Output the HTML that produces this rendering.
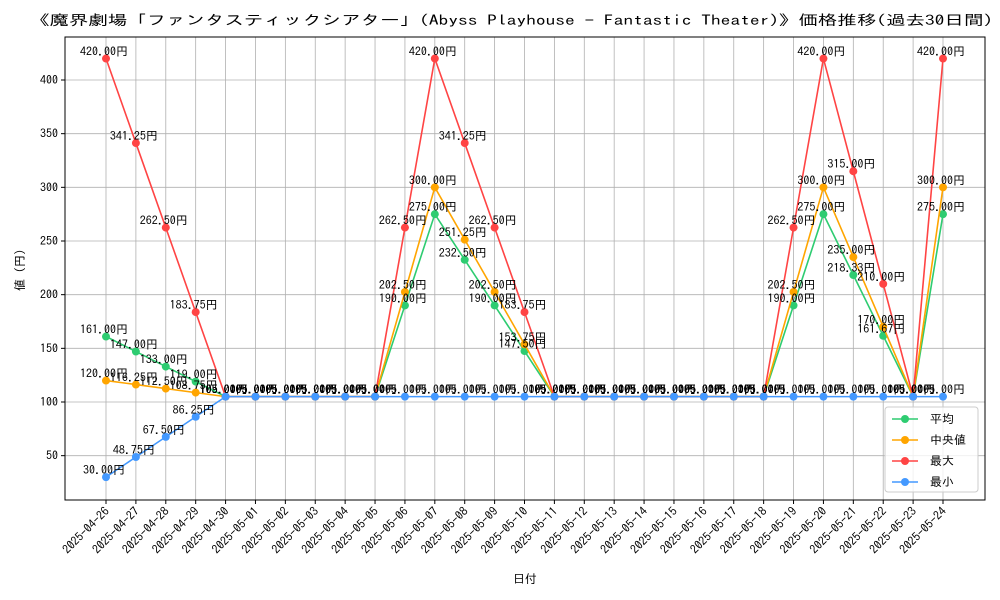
<!DOCTYPE html>
<html><head><meta charset="utf-8">
<style>
body{margin:0;background:#fff;}
svg{display:block;font-family:"IPAGothic","Liberation Sans","Noto Sans CJK JP",sans-serif;}
</style></head>
<body>
<svg id="chart" width="1000" height="600" xmlns="http://www.w3.org/2000/svg">
<rect x="0" y="0" width="1000" height="600" fill="#fff"/>
<text x="30" y="25" textLength="963" lengthAdjust="spacingAndGlyphs" font-size="14">《魔界劇場「ファンタスティックシアター」(Abyss Playhouse - Fantastic Theater)》価格推移(過去30日間)</text>
<g id="grid"></g>
<g id="series"></g>
<g id="labels"></g>
<rect x="65" y="37" width="920" height="463" fill="none" stroke="#000" stroke-width="1"/>
<g id="axes"></g>
<text x="525" y="583" text-anchor="middle" font-size="12">日付</text>
<text transform="translate(24,270) rotate(-90)" text-anchor="middle" font-size="12">値 (円)</text>
<g id="legend"></g>
</svg>
<script>
const categories=["2025-04-26","2025-04-27","2025-04-28","2025-04-29","2025-04-30","2025-05-01","2025-05-02","2025-05-03","2025-05-04","2025-05-05","2025-05-06","2025-05-07","2025-05-08","2025-05-09","2025-05-10","2025-05-11","2025-05-12","2025-05-13","2025-05-14","2025-05-15","2025-05-16","2025-05-17","2025-05-18","2025-05-19","2025-05-20","2025-05-21","2025-05-22","2025-05-23","2025-05-24"];
const meanValues=[161,147,133,119,105,105,105,105,105,105,190,275,232.5,190,147.5,105,105,105,105,105,105,105,105,190,275,218.33,161.67,105,275];
const medianValues=[120,116.25,112.5,108.75,105,105,105,105,105,105,202.5,300,251.25,202.5,153.75,105,105,105,105,105,105,105,105,202.5,300,235,170,105,300];
const maxValues=[420,341.25,262.5,183.75,105,105,105,105,105,105,262.5,420,341.25,262.5,183.75,105,105,105,105,105,105,105,105,262.5,420,315,210,105,420];
const minValues=[30,48.75,67.5,86.25,105,105,105,105,105,105,105,105,105,105,105,105,105,105,105,105,105,105,105,105,105,105,105,105,105];
const yTicks=[50,100,150,200,250,300,350,400];
const seriesNames=["平均","中央値","最大","最小"];
const seriesColors=["#2ecc71","#ffa500","#ff4444","#4499ff"];

const NS="http://www.w3.org/2000/svg";
function xs(i){return 106+i*(943-106)/(categories.length-1);}
function ys(v){return 402-(v-100)*(322/300);}
function mk(tag,attrs,parent){const e=document.createElementNS(NS,tag);for(const k in attrs)e.setAttribute(k,attrs[k]);parent.appendChild(e);return e;}
const grid=document.getElementById('grid'),axes=document.getElementById('axes'),ser=document.getElementById('series'),lab=document.getElementById('labels'),leg=document.getElementById('legend');
categories.forEach((c,i)=>{
  const g=mk('line',{x1:xs(i),x2:xs(i),y1:37,y2:500,stroke:'#b0b0b0','stroke-width':0.8},grid);
  
  
  const t=mk('line',{x1:xs(i),x2:xs(i),y1:500,y2:504,stroke:'#000'},axes);
  
  
  const tx=mk('text',{x:0,y:0,'font-size':12,'text-anchor':'end',transform:`translate(${xs(i)+4},${512}) rotate(-45)`},axes);
  tx.textContent=c;
  
  
});
yTicks.forEach(v=>{
  const g=mk('line',{x1:65,x2:985,y1:ys(v),y2:ys(v),stroke:'#b0b0b0','stroke-width':0.8},grid);
  
  
  const t=mk('line',{x1:61,x2:65,y1:ys(v),y2:ys(v),stroke:'#000'},axes);
  
  
  const tx=mk('text',{x:58,y:ys(v)+4,'font-size':12,'text-anchor':'end'},axes);
  tx.textContent=v;
  
  
});
const all=[meanValues,medianValues,maxValues,minValues];
all.forEach((vals,s)=>{
  const pl=mk('polyline',{points:vals.map((v,i)=>xs(i)+','+ys(v)).join(' '),fill:'none',stroke:seriesColors[s],'stroke-width':1.6},ser);
  
  
  vals.forEach((v,i)=>{
    const c=mk('circle',{cx:xs(i),cy:ys(v),r:4,fill:seriesColors[s]},ser);
    
    
    const t=mk('text',{x:xs(i)-2,y:ys(v)-3,'font-size':12,'text-anchor':'middle'},lab);
    t.textContent=v.toFixed(2)+'円';
    
    
  });
});
const lb=mk('rect',{x:885,y:407,width:93,height:85,fill:'#fff','fill-opacity':0.8,stroke:'#ccc',rx:3},leg);


seriesNames.forEach((n,s)=>{
  const y=419+s*21;
  const l=mk('line',{x1:892,x2:918,y1:y,y2:y,stroke:seriesColors[s],'stroke-width':1.6},leg);
  
  
  const c=mk('circle',{cx:905,cy:y,r:4,fill:seriesColors[s]},leg);
  
  
  const t=mk('text',{x:930,y:y+4,'font-size':12},leg);
  t.textContent=n;
  
  
});
</script>
</body></html>
